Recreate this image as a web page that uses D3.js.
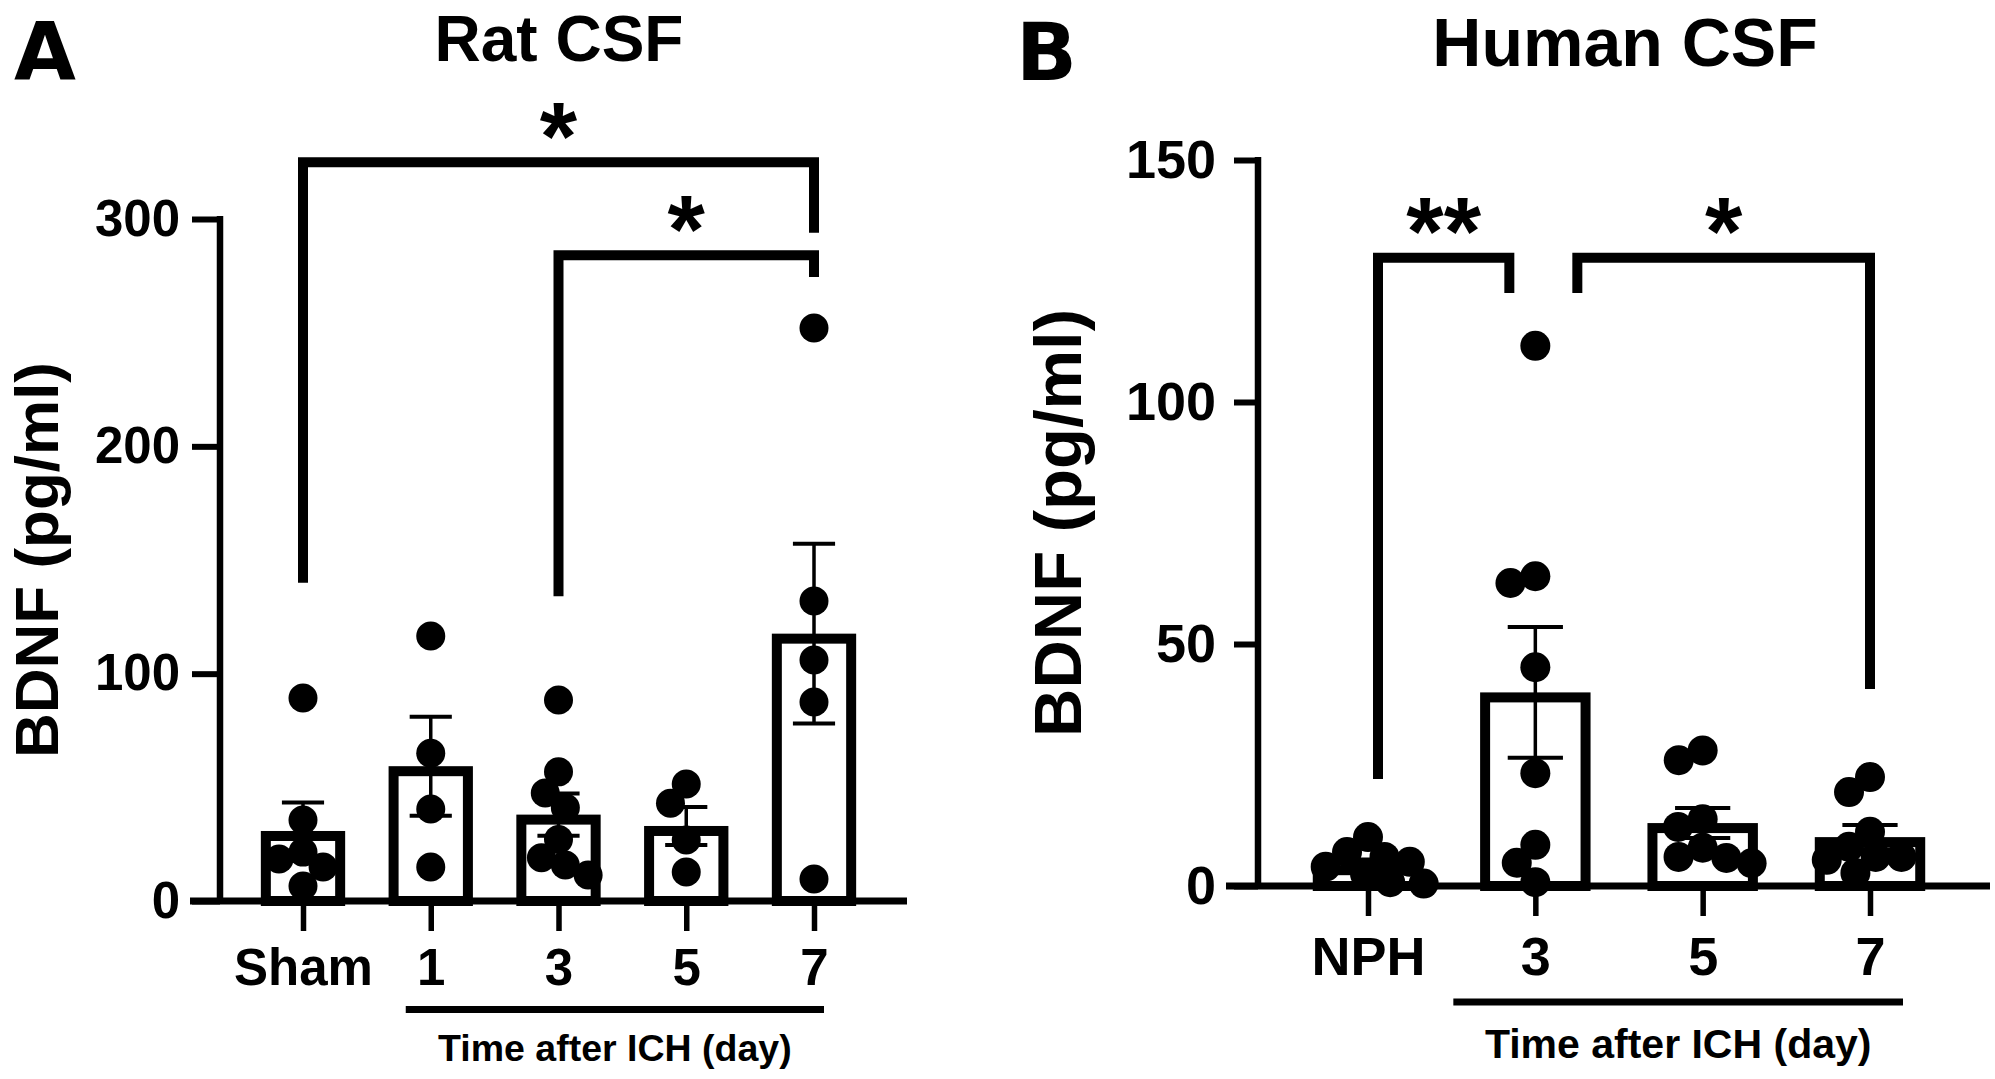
<!DOCTYPE html>
<html>
<head>
<meta charset="utf-8">
<title>BDNF in CSF</title>
<script src="https://d3js.org/d3.v7.min.js"></script>
<style>
  body { margin: 0; background: #fff; }
  svg text { font-family: "Liberation Sans", Arial, sans-serif; font-weight: bold; fill: #000; }
</style>
</head>
<body>
<script>
// ---- panel A : rat CSF ----
var ratGroups = ["Sham", "1", "3", "5", "7"];
var ratMean = [30.8, 59.3, 38, 33, 117.6];
var ratSem = [12.5, 21.8, 9.3, 8.4, 39.5];
var ratPoints = [
  [89.3, 35.6, 21.5, 18.5, 15, 6.6],
  [116.6, 65, 40.5, 15],
  [88.4, 56.8, 47.5, 41, 27, 19, 15.8, 11.4],
  [51.5, 43, 26.8, 12.8],
  [252, 132, 106, 87.5, 9.7]
];
var ratTicks = [0, 100, 200, 300];
// significance brackets: groups, label, bar level, leg ends (data units)
var ratSig = [
  {from: "Sham", to: "7", label: "*", level: 325, fromEnd: 140, toEnd: 294},
  {from: "3", to: "7", label: "*", level: 284, fromEnd: 134, toEnd: 274.5}
];

// ---- panel B : human CSF ----
var humanGroups = ["NPH", "3", "5", "7"];
var humanMean = [4.3, 40, 13, 10.1];
var humanSem = [1.2, 13.5, 3.1, 2.5];
var humanPoints = [
  [10.1, 7, 6, 5, 4, 2.5, 0.8, 0.5],
  [111.6, 64, 62.6, 45.2, 23.3, 8.5, 4.8, 0.8],
  [28, 26, 13.8, 12.2, 7.9, 6, 5.8, 4.7],
  [22.5, 19.4, 11.2, 8.1, 6, 6, 5.4, 2.7]
];
var humanTicks = [0, 50, 100, 150];
var humanSig = [
  {from: "NPH", to: "3", label: "**", level: 129.8, fromEnd: 22.1, toEnd: 122.5},
  {from: "3", to: "7", label: "*", level: 129.8, fromEnd: 122.5, toEnd: 40.7}
];

var W = 1995, H = 1079;
var svg = d3.select("body").append("svg")
  .attr("width", W)
  .attr("height", H);

// simple beeswarm: biggest values first, each dot as close to the centre as it fits
// (dots may overlap a little, as in the original)
function swarm(values, y, r) {
  var placed = [];
  var d2 = Math.pow(2 * r * 0.86, 2);
  values.slice().sort(function (a, b) { return b - a; }).forEach(function (v) {
    var py = y(v);
    var cands = [0];
    placed.forEach(function (q) {
      var dy = q.y - py;
      if (dy * dy < d2) {
        var dx = Math.sqrt(d2 - dy * dy);
        cands.push(q.x - dx, q.x + dx);
      }
    });
    cands.sort(function (a, b) { return Math.abs(a) - Math.abs(b) || a - b; });
    var best = cands.find(function (cx) {
      return placed.every(function (q) {
        return Math.pow(q.x - cx, 2) + Math.pow(q.y - py, 2) >= d2 - 0.5;
      });
    });
    placed.push({x: best, y: py});
  });
  return placed;
}

function panel(o) {
  var g = svg.append("g");
  var x = d3.scalePoint().domain(o.groups).range(o.xRange);
  var y = d3.scaleLinear().domain([0, d3.max(o.ticks)]).range(o.yRange);
  var step = x.step();
  var y0 = y(0);

  // axes
  g.append("line")
    .attr("x1", o.axisX).attr("x2", o.axisX)
    .attr("y1", y(d3.max(o.ticks)) - 3).attr("y2", y0)
    .attr("stroke", "#000").attr("stroke-width", 6.5);
  g.append("line")
    .attr("x1", o.xAxisFrom).attr("x2", o.xAxisTo)
    .attr("y1", y0).attr("y2", y0)
    .attr("stroke", "#000").attr("stroke-width", 7);

  var ya = g.append("g")
    .attr("transform", "translate(" + o.axisX + ",0)")
    .call(d3.axisLeft(y).tickValues(o.ticks).tickSize(o.yTick).tickPadding(o.yPad).tickSizeOuter(0));
  ya.select(".domain").remove();
  ya.attr("font-family", null).attr("font-size", o.tickFont);
  ya.selectAll(".tick line").attr("stroke-width", 6);

  var xa = g.append("g")
    .attr("transform", "translate(0," + y0 + ")")
    .call(d3.axisBottom(x).tickSize(30).tickPadding(o.xPad).tickSizeOuter(0));
  xa.select(".domain").remove();
  xa.attr("font-family", null).attr("font-size", o.tickFont);
  xa.selectAll(".tick line").attr("stroke-width", 5.5);

  // bars: outer edge of the top stroke sits at the mean
  var sw = 10, outer = step * 0.66;
  g.selectAll("rect.bar")
    .data(o.groups)
    .enter()
    .append("rect")
    .attr("class", "bar")
    .attr("x", function (d) { return x(d) - outer / 2 + sw / 2; })
    .attr("width", outer - sw)
    .attr("y", function (d, i) { return y(o.mean[i]) + sw / 2; })
    .attr("height", function (d, i) { return y0 - y(o.mean[i]) - sw / 2; })
    .attr("fill", "#fff")
    .attr("stroke", "#000")
    .attr("stroke-width", sw);

  // points
  o.groups.forEach(function (grp, i) {
    var pts = swarm(o.points[i], y, o.r);
    g.selectAll(null)
      .data(pts)
      .enter()
      .append("circle")
      .attr("cx", function (p) { return x(grp) + p.x; })
      .attr("cy", function (p) { return p.y; })
      .attr("r", o.r)
      .attr("fill", "#000");
  });

  // SEM error bars
  var cap = step * 0.33;
  o.groups.forEach(function (grp, i) {
    var cx = x(grp), hi = y(o.mean[i] + o.sem[i]), lo = y(o.mean[i] - o.sem[i]);
    g.append("line")
      .attr("x1", cx).attr("x2", cx).attr("y1", hi).attr("y2", lo)
      .attr("stroke", "#000").attr("stroke-width", 3.5);
    [hi, lo].forEach(function (yy) {
      g.append("line")
        .attr("x1", cx - cap / 2).attr("x2", cx + cap / 2)
        .attr("y1", yy).attr("y2", yy)
        .attr("stroke", "#000").attr("stroke-width", 4);
    });
  });

  // significance brackets
  o.sig.forEach(function (s, i) {
    var xa1 = x(s.from) + o.legNudge[i][0];
    var xa2 = x(s.to) + o.legNudge[i][1];
    var ly = y(s.level);
    g.append("path")
      .attr("d", "M" + xa1 + "," + y(s.fromEnd) + "V" + ly + "H" + xa2 + "V" + y(s.toEnd))
      .attr("fill", "none")
      .attr("stroke", "#000")
      .attr("stroke-width", 10)
      .attr("stroke-linejoin", "miter");
    g.append("text")
      .attr("x", (xa1 + xa2) / 2)
      .attr("y", ly - 48 + 0.57 * 96)
      .attr("text-anchor", "middle")
      .attr("font-size", 96)
      .text(s.label);
  });

  // group underline and its caption
  var u1 = x(o.groups[1]) + o.lineFrom, u2 = x(o.groups[o.groups.length - 1]) + o.lineTo;
  g.append("line")
    .attr("x1", u1).attr("x2", u2)
    .attr("y1", o.lineY).attr("y2", o.lineY)
    .attr("stroke", "#000").attr("stroke-width", 7);
  g.append("text")
    .attr("x", (u1 + u2) / 2)
    .attr("y", o.captionY)
    .attr("text-anchor", "middle")
    .attr("font-size", o.captionFont)
    .text("Time after ICH (day)");

  // y label
  var yMid = (y(d3.max(o.ticks)) + y0) / 2;
  g.append("text")
    .attr("transform", "translate(" + o.labelX + "," + yMid + ") rotate(-90)")
    .attr("text-anchor", "middle")
    .attr("font-size", o.labelFont)
    .text("BDNF (pg/ml)");

  // title and panel letter
  g.append("text")
    .attr("x", o.titleX).attr("y", o.titleY)
    .attr("text-anchor", "middle")
    .attr("font-size", o.titleFont)
    .text(o.title);
  g.append("text")
    .attr("x", o.letterX).attr("y", 80)
    .attr("font-size", 80)
    .style("font-family", "'DejaVu Sans', sans-serif")
    .text(o.letter);
}

panel({
  groups: ratGroups, mean: ratMean, sem: ratSem, points: ratPoints, ticks: ratTicks, sig: ratSig,
  xRange: [303, 814], yRange: [901, 219], axisX: 220, xAxisFrom: 190, xAxisTo: 907,
  yTick: 28, yPad: 12, xPad: 18, tickFont: 51, r: 14.5,
  legNudge: [[0, 0], [0, 0]],
  lineFrom: -25, lineTo: 10, lineY: 1009.5, captionY: 1061, captionFont: 37.5,
  labelX: 58, labelFont: 62,
  title: "Rat CSF", titleX: 559, titleY: 61, titleFont: 64,
  letter: "A", letterX: 14
});

panel({
  groups: humanGroups, mean: humanMean, sem: humanSem, points: humanPoints, ticks: humanTicks, sig: humanSig,
  xRange: [1368, 1870], yRange: [886, 160], axisX: 1258, xAxisFrom: 1226, xAxisTo: 1990,
  yTick: 24, yPad: 18, xPad: 21, tickFont: 54, r: 15,
  legNudge: [[10, -26], [42, 0]],
  lineFrom: -82, lineTo: 33, lineY: 1002, captionY: 1058, captionFont: 41,
  labelX: 1081, labelFont: 67,
  title: "Human CSF", titleX: 1625, titleY: 66, titleFont: 68,
  letter: "B", letterX: 1016
});
</script>
</body>
</html>
